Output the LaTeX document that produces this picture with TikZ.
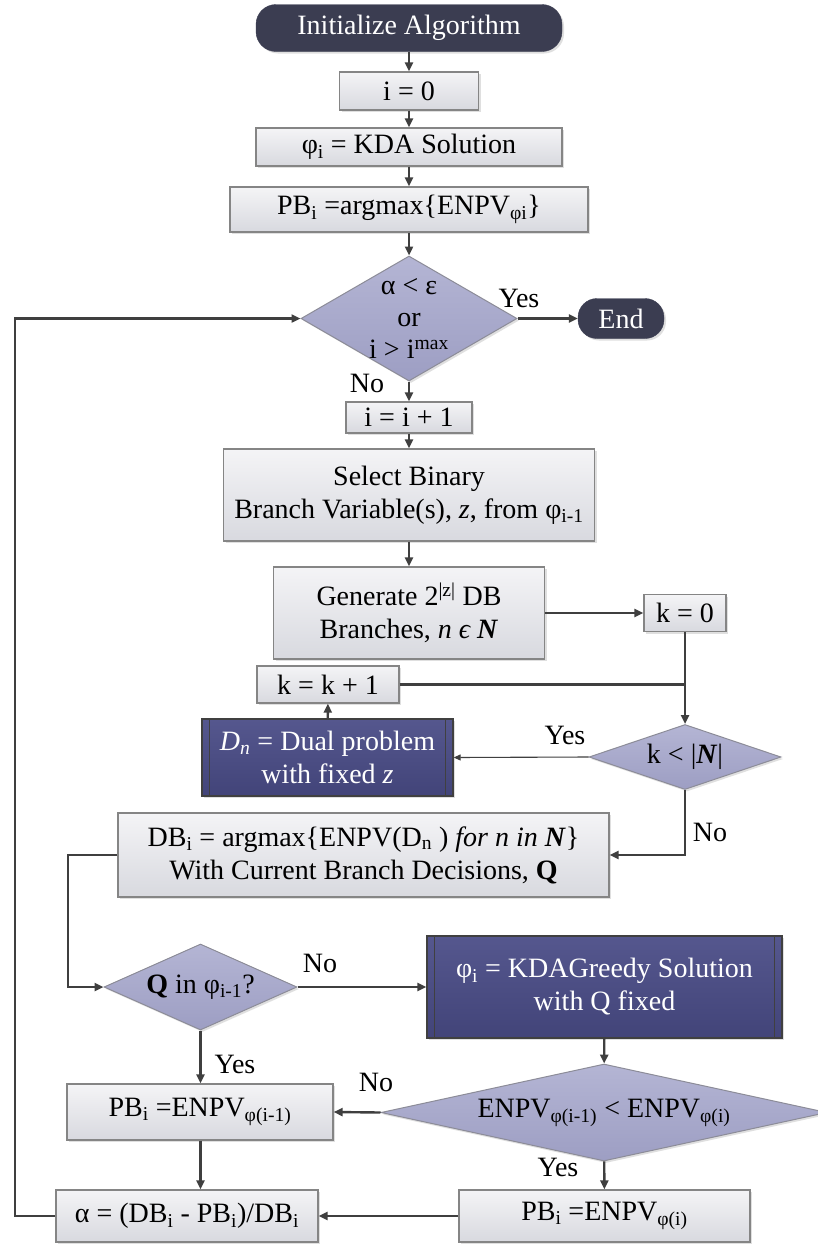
\documentclass[tikz,border=0pt]{standalone}
\usepackage{fontspec}
\setmainfont{Liberation Serif}
\usetikzlibrary{arrows.meta,shapes.geometric,shadows,calc}
\definecolor{linec}{HTML}{3F3F3F}
\definecolor{bordc}{HTML}{858585}
\definecolor{lt1}{HTML}{F4F4F6}
\definecolor{lt2}{HTML}{D8D9DF}
\definecolor{termc}{HTML}{3B3D51}
\definecolor{dc1}{HTML}{B4B5D4}
\definecolor{dc2}{HTML}{9D9EC3}
\definecolor{pc1}{HTML}{55578E}
\definecolor{pc2}{HTML}{424479}
\begin{document}
\begin{tikzpicture}[x=1pt,y=-1pt,
  font=\fontsize{28}{33}\selectfont,
  shad/.style={drop shadow={opacity=0.25,shadow xshift=2pt,shadow yshift=-2pt}},
  box/.style={rectangle,draw=bordc,line width=1.3pt,top color=lt1,bottom color=lt2,inner sep=0pt,align=center,shad},
  term/.style={rectangle,rounded corners=20pt,draw=termc,fill=termc,text=white,inner sep=0pt,align=center,shad},
  dec/.style={diamond,draw=bordc!70!dc2,line width=1pt,top color=dc1,bottom color=dc2,inner sep=0pt,shad},
  proc/.style={rectangle,draw=black!75,line width=1.3pt,top color=pc1,bottom color=pc2,text=white,inner sep=0pt,align=center,shad},
  arr/.style={draw=linec,line width=2.4pt,-{Triangle[length=9pt,width=8pt]}},
  thinarr/.style={draw=linec,line width=1.1pt,-{Triangle[length=7pt,width=6pt]}},
  ln/.style={draw=linec,line width=2.4pt},
  lbl/.style={inner sep=0pt}
]
\useasboundingbox (0,0) rectangle (817,1253);
\fill[white] (0,0) rectangle (817,1253);

% nodes
\node[term,minimum width=306pt,minimum height=47pt] (init) at (409,28) {Initialize Algorithm};
\node[box,minimum width=139pt,minimum height=38pt] (i0) at (409,91) {i = 0};
\node[box,minimum width=306pt,minimum height=38pt] (phi0) at (409,147) {φ\textsubscript{i} = KDA Solution};
\node[box,minimum width=358pt,minimum height=45pt] (pb0) at (409,209.5) {PB\textsubscript{i} =argmax\{ENPV\textsubscript{φi}\}};
\node[dec,minimum width=216pt,minimum height=125pt,
  label={[align=center,lbl,font=\fontsize{28}{32}\selectfont]center:α < ε\\or\\i > i\textsuperscript{max}}] (d1) at (409,318.5) {};
\node[term,rounded corners=19pt,minimum width=86pt,minimum height=40pt] (end) at (621,318.5) {End};
\node[box,minimum width=126pt,minimum height=31pt] (inc) at (409,417.5) {i = i + 1};
\node[box,minimum width=371pt,minimum height=92pt] (sel) at (409,495) {Select Binary\\Branch Variable(s), \textit{z}, from φ\textsubscript{i-1}};
\node[box,minimum width=271pt,minimum height=92pt] (gen) at (409,613) {Generate 2\textsuperscript{|z|} DB\\Branches, \textit{n ϵ \textbf{N}}};
\node[box,minimum width=82pt,minimum height=37pt] (k0) at (685,613) {k = 0};
\node[box,minimum width=142pt,minimum height=37pt] (kinc) at (328,684.5) {k = k + 1};
\node[dec,minimum width=192pt,minimum height=65pt,
  label={[lbl]center:k < |\textbf{\textit{N}}|}] (kn) at (685,757) {};
\node[proc,minimum width=251pt,minimum height=77pt] (dn) at (327.5,757.5) {\textit{D\textsubscript{n}} = Dual problem\\with fixed \textit{z}};
\node[box,minimum width=491pt,minimum height=84pt] (db) at (363.5,855) {DB\textsubscript{i} = argmax\{ENPV(D\textsubscript{n} ) \textit{for n in \textbf{N}}\}\\With Current Branch Decisions, \textbf{Q}};
\node[dec,minimum width=193pt,minimum height=86pt,
  label={[lbl]center:\textbf{Q} in φ\textsubscript{i-1}?}] (q) at (200.5,987) {};
\node[proc,minimum width=355pt,minimum height=102pt] (greedy) at (604.5,987) {φ\textsubscript{i} = KDAGreedy Solution\\with Q fixed};
\node[dec,minimum width=446pt,minimum height=97pt,
  label={[lbl]center:ENPV\textsubscript{φ(i-1)} < ENPV\textsubscript{φ(i)}}] (enpv) at (604,1112.5) {};
\node[box,minimum width=266pt,minimum height=56pt] (pb1) at (200,1112) {PB\textsubscript{i} =ENPV\textsubscript{φ(i-1)}};
\node[box,minimum width=262pt,minimum height=52pt] (alpha) at (187,1216) {α = (DB\textsubscript{i} - PB\textsubscript{i})/DB\textsubscript{i}};
\node[box,minimum width=291pt,minimum height=52pt] (pb2) at (604.5,1216) {PB\textsubscript{i} =ENPV\textsubscript{φ(i)}};

% inner lines of process boxes
\foreach \n in {dn,greedy}{
  \draw[black!75,line width=1pt] ($(\n.north west)+(8,0)$) -- ($(\n.south west)+(8,0)$);
  \draw[black!75,line width=1pt] ($(\n.north east)+(-8,0)$) -- ($(\n.south east)+(-8,0)$);
}

% connectors
\draw[arr] (init) -- (i0);
\draw[arr] (i0) -- (phi0);
\draw[arr] (phi0) -- (pb0);
\draw[arr] (pb0) -- (d1);
\draw[arr] (d1.east) -- (end.west);
\node[lbl] (yes1) at (519,298) {Yes};
\draw[arr] (d1) -- (inc);
\node[lbl] (no1) at (367,383) {No};
\draw[arr] (inc) -- (sel);
\draw[arr] (sel) -- (gen);
\draw[arr] (gen.east |- k0.west) -- (k0.west);
\coordinate (junc) at (k0.south |- kinc.east);
\draw[arr] (k0) -- (kn);
\draw[ln] (kinc.east) -- (junc);
\draw[thinarr] (kn.west) -- (dn.east);
\node[lbl] (yes2) at (565,735) {Yes};
\draw[arr] (dn) -- (kinc);
\draw[arr] (kn.south) |- (db.east);
\node[lbl] (no2) at (710,832) {No};
\coordinate (lft) at (68,855);
\draw[arr] (db.west) -- (lft) |- (q.west);
\draw[arr] (q.east) -- (greedy.west);
\node[lbl] (no3) at (320,963) {No};
\draw[arr] (greedy) -- (enpv);
\draw[arr] (enpv.west) -- (pb1.east);
\node[lbl] (no4) at (376,1082) {No};
\draw[arr] (q.south) -- (q.south |- pb1.north);
\node[lbl] (yes3) at (235,1064) {Yes};
\draw[arr] (enpv) -- (pb2);
\node[lbl] (yes4) at (558,1167) {Yes};
\draw[arr] (pb2.west) -- (alpha.east);
\draw[arr] (q.south |- pb1.south) -- (q.south |- alpha.north);
\coordinate (loop) at (15,1216);
\draw[arr] (alpha.west) -- (loop) |- (d1.west);
\end{tikzpicture}
\end{document}
